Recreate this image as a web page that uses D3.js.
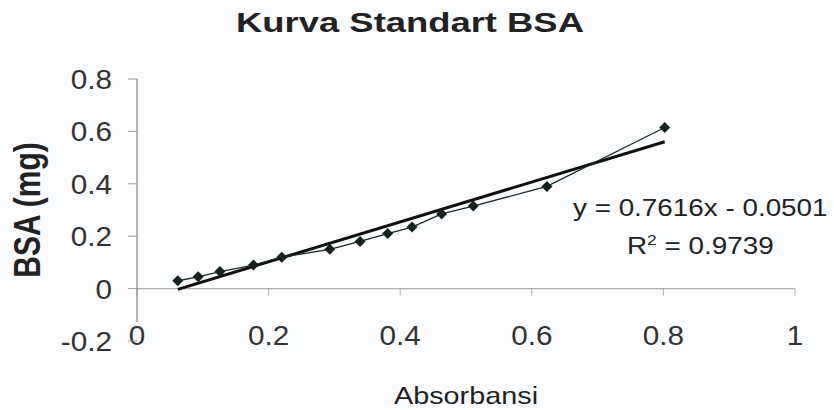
<!DOCTYPE html>
<html>
<head>
<meta charset="utf-8">
<script src="https://cdn.jsdelivr.net/npm/d3@7"></script>
<style>
    body { margin: 0; background: #fbfcfd; }
    text { font-family: "Liberation Sans", Arial, sans-serif; fill: #222; }
</style>
</head>
<body>
<div id="chart"></div>
<script>
// Data
var absorbansi = [0.062, 0.093, 0.126, 0.177, 0.220, 0.293, 0.339, 0.381, 0.418, 0.463, 0.511, 0.623, 0.802];
var bsa = [0.030, 0.045, 0.065, 0.090, 0.120, 0.150, 0.180, 0.210, 0.235, 0.285, 0.315, 0.390, 0.615];

// Linear trendline
var slope = 0.7616;
var intercept = -0.0501;
var rSquared = "0.9739";

var xTicks = [0, 0.2, 0.4, 0.6, 0.8, 1];
var yTicks = [-0.2, 0, 0.2, 0.4, 0.6, 0.8];

var width = 834;
var height = 410;

var svg = d3.select("#chart")
    .append("svg")
    .attr("width", width)
    .attr("height", height);

var x = d3.scaleLinear().domain([0, 1]).range([137, 795]);
var y = d3.scaleLinear().domain([-0.2, 0.8]).range([341, 79]);

// Title
svg.append("text")
    .attr("transform", "translate(410,32) scale(1.3,1)")
    .attr("text-anchor", "middle")
    .style("font-size", "28px")
    .style("font-weight", "bold")
    .text("Kurva Standart BSA");

// x axis line sits on y = 0
svg.append("line")
    .attr("x1", x(0)).attr("x2", x(1))
    .attr("y1", y(0)).attr("y2", y(0))
    .attr("stroke", "#b0b0b0")
    .attr("stroke-width", 1.2);

svg.selectAll(".xtick")
    .data(xTicks)
    .enter()
    .append("line")
    .attr("x1", function (d) { return x(d); })
    .attr("x2", function (d) { return x(d); })
    .attr("y1", y(0))
    .attr("y2", y(0) + 7)
    .attr("stroke", "#b0b0b0");

// x tick labels are placed below the plot
svg.selectAll(".xlabel")
    .data(xTicks)
    .enter()
    .append("text")
    .attr("transform", function (d) { return "translate(" + x(d) + ",345) scale(1.1,1)"; })
    .attr("text-anchor", "middle")
    .style("font-size", "27px")
    .style("fill", "#333")
    .text(function (d) { return d; });

// y axis
svg.append("line")
    .attr("x1", x(0)).attr("x2", x(0))
    .attr("y1", y(0.8)).attr("y2", 322)
    .attr("stroke", "#888")
    .attr("stroke-width", 1.2);

svg.selectAll(".ytick")
    .data(yTicks)
    .enter()
    .append("line")
    .attr("x1", x(0) - 9)
    .attr("x2", x(0))
    .attr("y1", function (d) { return y(d); })
    .attr("y2", function (d) { return y(d); })
    .attr("stroke", "#999");

svg.selectAll(".ylabel")
    .data(yTicks)
    .enter()
    .append("text")
    .attr("transform", function (d) { return "translate(112," + (y(d) + 10) + ") scale(1.1,1)"; })
    .attr("text-anchor", "end")
    .style("font-size", "27px")
    .style("fill", "#333")
    .text(function (d) { return d; });

// Axis titles
svg.append("text")
    .attr("transform", "translate(40,210) scale(1.25,1) rotate(-90)")
    .attr("text-anchor", "middle")
    .style("font-size", "30px")
    .style("font-weight", "bold")
    .text("BSA (mg)");

svg.append("text")
    .attr("transform", "translate(" + x(0.5) + ",404) scale(1.2,1)")
    .attr("text-anchor", "middle")
    .style("font-size", "24px")
    .text("Absorbansi");

// Trendline
var xMin = d3.min(absorbansi), xMax = d3.max(absorbansi);
svg.append("line")
    .attr("x1", x(xMin)).attr("y1", y(slope * xMin + intercept))
    .attr("x2", x(xMax)).attr("y2", y(slope * xMax + intercept))
    .attr("stroke", "#111")
    .attr("stroke-width", 3);

// Data series
var points = absorbansi.map(function (d, i) { return { x: d, y: bsa[i] }; });

var line = d3.line()
    .x(function (d) { return x(d.x); })
    .y(function (d) { return y(d.y); });

svg.append("path")
    .datum(points)
    .attr("d", line)
    .attr("fill", "none")
    .attr("stroke", "#1a2a28")
    .attr("stroke-width", 1.3);

// square markers turned 45 degrees, like Excel diamonds
svg.selectAll(".pt")
    .data(points)
    .enter()
    .append("path")
    .attr("d", d3.symbol().type(d3.symbolSquare).size(60))
    .attr("transform", function (d) { return "translate(" + x(d.x) + "," + y(d.y) + ") rotate(45)"; })
    .attr("fill", "#15221f");

// Equation label
svg.append("text")
    .attr("transform", "translate(573,216) scale(1.16,1)")
    .style("font-size", "24px")
    .text("y = 0.7616x - 0.0501");

var r2 = svg.append("text")
    .attr("transform", "translate(627,254) scale(1.16,1)")
    .style("font-size", "24px");
r2.append("tspan").text("R");
r2.append("tspan").attr("dy", -9).style("font-size", "15px").text("2");
r2.append("tspan").attr("dy", 9).text(" = " + rSquared);
</script>
</body>
</html>
